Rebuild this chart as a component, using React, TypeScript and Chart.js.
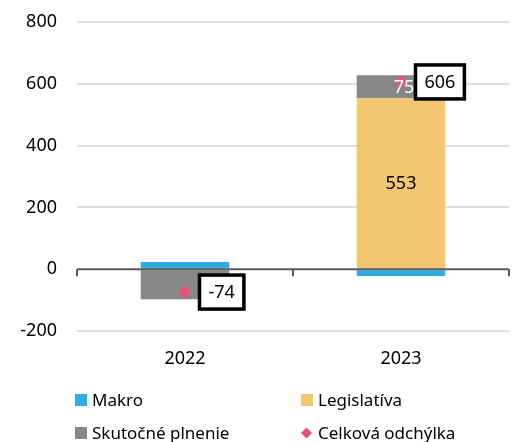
import { useEffect, useRef } from 'react';
import { Chart, registerables } from 'chart.js';

Chart.register(...registerables);

const categories = ['2022', '2023'];
const makro = [23, -22];
const legislativa = [-3, 553];
const skutocne = [-94, 75];
const celkova = [-74, 606];
const legislativaLabels = [null, '553'];
const skutocneLabels = [null, '75'];
const celkovaLabels = ['-74', '606'];
const yMin = -200;
const yMax = 800;
const yStep = 200;

const FONT = '"Noto Sans", "DejaVu Sans", sans-serif';

const zeroAxisPlugin = {
  id: 'zeroAxis',
  afterDatasetsDraw(chart: any) {
    const ctx = chart.ctx;
    const xs = chart.scales.x;
    const ys = chart.scales.y;
    const y0 = ys.getPixelForValue(0);
    ctx.save();
    ctx.strokeStyle = '#595959';
    ctx.lineWidth = 2;
    ctx.beginPath();
    ctx.moveTo(xs.left, y0);
    ctx.lineTo(xs.right, y0);
    const n = categories.length;
    for (let i = 0; i <= n; i++) {
      const px = xs.left + ((xs.right - xs.left) * i) / n;
      ctx.moveTo(px, y0);
      ctx.lineTo(px, y0 + 7);
    }
    ctx.stroke();
    ctx.restore();
  },
};

const labelPlugin = {
  id: 'valueLabels',
  afterDraw(chart: any) {
    const ctx = chart.ctx;
    ctx.save();
    ctx.font = `18px ${FONT}`;
    ctx.textAlign = 'center';
    ctx.textBaseline = 'middle';
    chart.data.datasets.forEach((ds: any, i: number) => {
      const labels = ds.valueLabels;
      if (!labels) return;
      const meta = chart.getDatasetMeta(i);
      meta.data.forEach((el: any, j: number) => {
        const txt = labels[j];
        if (!txt) return;
        if (ds.type === 'line') {
          const tw = ctx.measureText(txt).width;
          const w = tw + 18;
          const h = 34;
          const left = el.x + 14.5;
          const top = el.y - h / 2;
          ctx.fillStyle = '#ffffff';
          ctx.fillRect(left, top, w, h);
          ctx.lineWidth = 3.5;
          ctx.strokeStyle = '#000000';
          ctx.strokeRect(left, top, w, h);
          ctx.fillStyle = '#000000';
          ctx.fillText(txt, left + w / 2, el.y + 1);
        } else {
          const c = el.getCenterPoint();
          ctx.fillStyle = ds.labelColor || '#000';
          ctx.fillText(txt, c.x + (ds.labelShift || 0), c.y + 1);
        }
      });
    });
    ctx.restore();
  },
};

const legendPlugin = {
  id: 'gridLegend',
  afterDraw(chart: any) {
    const ctx = chart.ctx;
    const cols = [75, 301];
    const rows = [400, 433];
    ctx.save();
    ctx.font = `17px ${FONT}`;
    ctx.textAlign = 'left';
    ctx.textBaseline = 'middle';
    chart.data.datasets.forEach((ds: any, i: number) => {
      const x = cols[i % 2];
      const y = rows[Math.floor(i / 2)];
      if (ds.type === 'line') {
        const cx = x + 5.5;
        const r = 5.5;
        ctx.fillStyle = ds.pointBackgroundColor;
        ctx.beginPath();
        ctx.moveTo(cx, y - r);
        ctx.lineTo(cx + r, y);
        ctx.lineTo(cx, y + r);
        ctx.lineTo(cx - r, y);
        ctx.closePath();
        ctx.fill();
      } else {
        ctx.fillStyle = ds.backgroundColor;
        ctx.fillRect(x, y - 6, 12, 12);
      }
      ctx.fillStyle = '#000000';
      ctx.fillText(ds.label, x + 17, y + 1);
    });
    ctx.restore();
  },
};

export default function App() {
  const ref = useRef<HTMLCanvasElement | null>(null);
  useEffect(() => {
    if (!ref.current) return;
    Chart.defaults.font.family = FONT;
    const chart = new Chart(ref.current, {
      type: 'bar',
      data: {
        labels: categories,
        datasets: [
          {
            type: 'bar',
            label: 'Makro',
            data: makro,
            backgroundColor: '#2EABE2',
            stack: 'bars',
            order: 1,
          } as any,
          {
            type: 'bar',
            label: 'Legislatíva',
            data: legislativa,
            backgroundColor: '#F2C76F',
            stack: 'bars',
            order: 1,
            valueLabels: legislativaLabels,
            labelColor: '#000000',
          } as any,
          {
            type: 'bar',
            label: 'Skutočné plnenie',
            data: skutocne,
            backgroundColor: '#878787',
            stack: 'bars',
            order: 1,
            valueLabels: skutocneLabels,
            labelColor: '#ffffff',
            labelShift: 3,
          } as any,
          {
            type: 'line',
            label: 'Celková odchýlka',
            data: celkova,
            showLine: false,
            pointStyle: 'rectRot',
            pointRadius: 6,
            pointBackgroundColor: '#E9507A',
            pointBorderColor: '#E9507A',
            pointBorderWidth: 1,
            stack: 'total',
            order: 0,
            valueLabels: celkovaLabels,
          } as any,
        ],
      },
      options: {
        animation: false,
        responsive: true,
        maintainAspectRatio: false,
        layout: { padding: { top: 22, right: 18, left: 0, bottom: 0 } },
        datasets: {
          bar: { categoryPercentage: 1, barPercentage: 0.41 },
        } as any,
        plugins: {
          legend: { display: false },
          tooltip: { enabled: false },
        },
        scales: {
          x: {
            stacked: true,
            grid: { display: false, drawTicks: false },
            border: { display: false },
            ticks: { color: '#000000', font: { size: 18 }, padding: 17 },
            afterFit(scale: any) {
              scale.height = 111;
            },
          },
          y: {
            stacked: true,
            min: yMin,
            max: yMax,
            ticks: {
              stepSize: yStep,
              color: '#000000',
              font: { size: 18 },
              padding: 0,
            },
            grid: {
              drawTicks: true,
              tickLength: 20,
              tickColor: 'rgba(0,0,0,0)',
              color: (c: any) => (c.tick && c.tick.value === 0 ? 'rgba(0,0,0,0)' : '#DEDEDE'),
              lineWidth: 2,
            },
            border: { display: false },
            afterFit(scale: any) {
              scale.width = 77;
            },
          },
        },
      },
      plugins: [zeroAxisPlugin, labelPlugin, legendPlugin],
    });
    return () => chart.destroy();
  }, []);
  return (
    <div style={{ position: 'absolute', left: 0, top: 0, width: 527, height: 442, background: '#fff' }}>
      <canvas ref={ref} />
    </div>
  );
}
